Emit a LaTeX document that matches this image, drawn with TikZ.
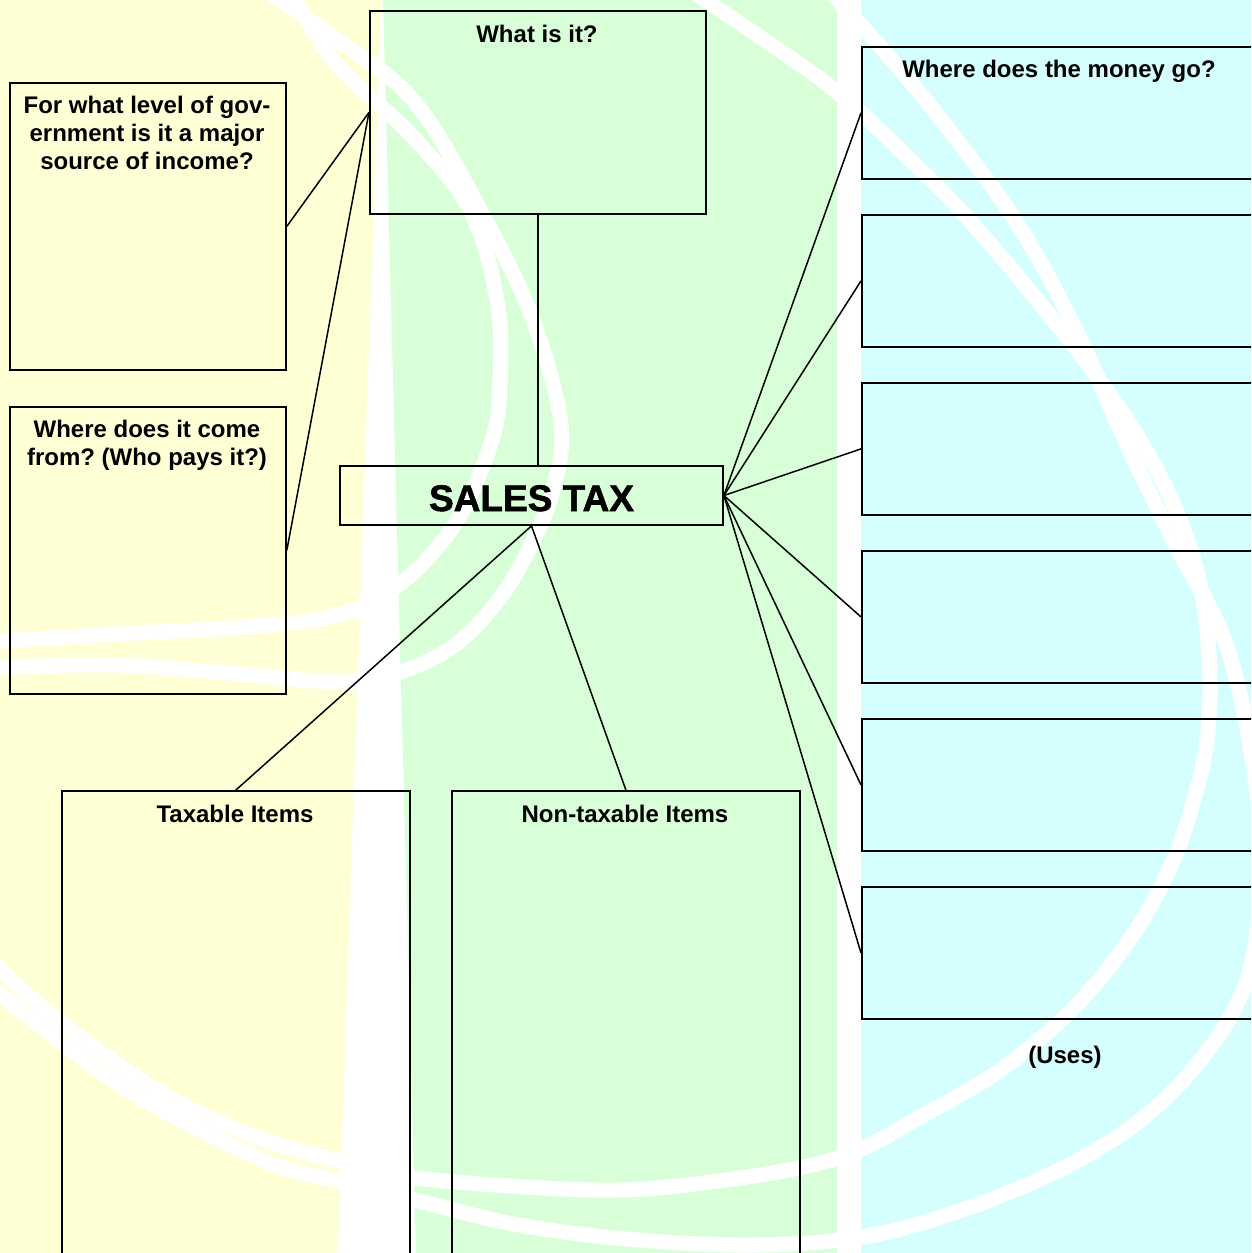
\documentclass[tikz,border=0pt]{standalone}
\usepackage{fontspec}
\setmainfont{Liberation Sans}
\newfontfamily\headfont{Liberation Sans}[BoldFeatures={FakeBold=1.5}]
\frenchspacing

\definecolor{paleyellow}{HTML}{FFFFD5}
\definecolor{palegreen}{HTML}{D8FFD8}
\definecolor{palecyan}{HTML}{D5FFFF}

\tikzset{
  box/.style={draw, line width=1.8pt, inner sep=0pt, anchor=north west},
  link/.style={line width=1.5pt},
  swirl/.style={white, line width=15pt},
  title/.style={font=\fontsize{24}{28}\selectfont\bfseries, inner sep=0pt, align=center},
}

\begin{document}
\begin{tikzpicture}[x=1pt,y=-1pt]
\clip (0,0) rectangle (1251,1253);
\fill[white] (0,0) rectangle (1251,1253);

% background columns
\fill[paleyellow] (0,0) -- (381,0) -- (338,1253) -- (0,1253) -- cycle;
\fill[palegreen] (383,0) -- (837,0) -- (837,1253) -- (416,1253) -- cycle;
\fill[palecyan] (861,0) rectangle (1251,1253);

% swirls
\draw[swirl] plot[smooth, tension=0.6] coordinates {(265,-10) (330,35) (413,100) (483,215) (533,320) (561,425) (552,493) (530,547) (500,598) (455,645) (400,672) (340,682) (240,674) (115,665) (-10,668)};
\draw[swirl] plot[smooth, tension=0.6] coordinates {(290,-10) (335,62) (413,137) (470,210) (497,300) (500,380) (493,437) (463,510) (430,556) (397,586) (360,608) (300,622) (200,630) (115,634) (-10,642)};
\draw[swirl] plot[smooth, tension=0.6] coordinates {(690,-10) (766,41) (837,92) (900,150) (973,224) (1077,350) (1140,440) (1180,520) (1203,600) (1210,699) (1198,785) (1160,889) (1093,987) (1010,1063) (920,1117) (838,1158) (718,1181) (598,1190) (415,1178) (343,1162) (250,1135) (160,1092) (60,1022) (-10,960)};
\draw[swirl] plot[smooth, tension=0.6] coordinates {(828,-10) (861,25) (932,108) (1015,220) (1077,332) (1123,436) (1173,540) (1228,650) (1258,800) (1260,900) (1245,985) (1203,1057) (1137,1123) (1053,1173) (953,1213) (862,1237) (758,1245) (638,1240) (519,1225) (415,1200) (343,1182) (263,1160) (120,1085) (-10,985)};

% boxes
\node[box, minimum width=336pt, minimum height=203pt] (what) at (369,10) {};
\node[box, minimum width=276pt, minimum height=287pt] (gov) at (9,82) {};
\node[box, minimum width=276pt, minimum height=287pt] (who) at (9,406) {};
\node[box, anchor=center, minimum width=383pt, minimum height=59pt,
      text height=31pt, text depth=0pt, font=\headfont\bfseries\fontsize{37}{40}\selectfont] (sales) at (531.5,495.5) {SALES TAX};
\node[box, minimum width=348pt, minimum height=480pt] (taxable) at (61,790) {};
\node[box, minimum width=348pt, minimum height=480pt] (nontax) at (451,790) {};
\foreach \i in {1,...,6}
  \node[box, minimum width=420pt, minimum height=132pt] (use\i) at (861,{46+168*(\i-1)}) {};

% labels
\node[title, anchor=base] (whatlbl) at (537,42) {What is it?};
\node[title, anchor=north] (govlbl) at (147,95.5) {For what level of gov-\\ernment is it a major\\source of income?};
\node[title, anchor=north] (wholbl) at (147,420) {Where does it come\\from? (Who pays it?)};
\node[title, anchor=base] (taxlbl) at (235,822) {Taxable Items};
\node[title, anchor=base] (nontaxlbl) at (625,822) {Non-taxable Items};
\node[title, anchor=base] (moneylbl) at (1059,77) {Where does the money go?};
\node[title, anchor=base] (useslbl) at (1065,1063) {(Uses)};

% connectors
\draw[link] (what.south) -- (what.south |- sales.north);
\draw[link] (what.west) -- (gov.east);
\draw[link] (what.west) -- (who.east);
\draw[link] (sales.south) -- (taxable.north);
\draw[link] (sales.south) -- (nontax.north);
\foreach \i in {1,...,6}
  \draw[link] (sales.east) -- (use\i.west);
\end{tikzpicture}
\end{document}
